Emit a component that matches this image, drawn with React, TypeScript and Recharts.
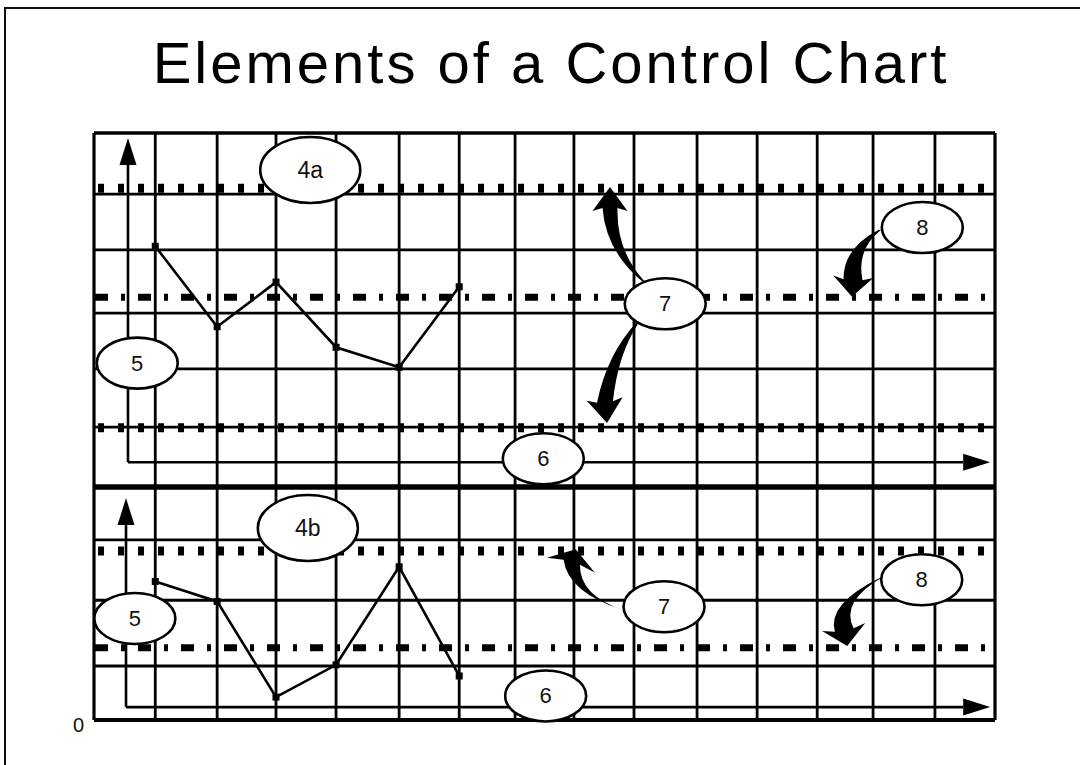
import React from "react";
import { LineChart, Line, XAxis, YAxis, CartesianGrid, ReferenceLine, ReferenceDot } from "recharts";

// ---------- data ----------
const gridX = [0, 1.02, 2.05, 3.03, 4.03, 5.08, 6.08, 7.01, 7.99, 8.99, 10.04, 11.04, 12.04, 12.97, 14, 15];
const gridY = [0, 0.92, 2.04, 3.07, 3.97, 4.99, 5.98, 6.93, 8.01, 8.96, 10];
const sampleX = [1.02, 2.05, 3.03, 4.03, 5.08, 6.08];
const upperValues = [8.07, 6.7, 7.46, 6.35, 6.01, 7.38];
const lowerValues = [2.36, 2.02, 0.39, 0.94, 2.61, 0.75];

const upperUCL = 9.06;
const upperCL = 7.2;
const upperLCL = 4.98;
const lowerUCL = 2.88;
const lowerCL = 1.23;
const panelDivider = 3.97;

const bubbleLabels = ["4a", "5", "6", "7", "8", "4b", "5", "7", "8", "6"];
const bubbleX = [3.6, 0.72, 7.48, 9.51, 13.79, 3.56, 0.68, 9.49, 13.78, 7.52];
const bubbleY = [9.37, 6.08, 4.45, 7.09, 8.39, 3.27, 1.73, 1.93, 2.39, 0.41];

const arrowTipX = [8.59, 8.54, 12.62, 8.02, 12.54];
const arrowTipY = [9.08, 5.06, 7.21, 2.91, 1.26];

const axisOriginX = [0.566, 0.533];
const axisOriginY = [4.39, 0.22];
const axisTopY = [9.915, 3.78];
const axisRightX = [14.92, 14.92];

const rows = sampleX.map((x, i) => ({ x, upper: upperValues[i], lower: lowerValues[i] }));

// ---------- drawing helpers ----------
const FONT = "'Liberation Sans', Arial, Helvetica, sans-serif";

const arrowGeom = [
  { b: [0, 21], c: [1, 64], t: [34, 95], head: 17.5, body: 15 },
  { b: [-2, -21], c: [5.5, -69], t: [31, -101], head: 18, body: 16 },
  { b: [1, -17], c: [-2.5, -48], t: [28, -67], head: 20, body: 19 },
  { b: [-4, 13], c: [-2, 45], t: [48, 61], head: 25, body: 17 },
  { b: [-3, -16], c: [-14, -43.5], t: [35, -69], head: 22, body: 19 },
];

function arrowPath(px: number, py: number, g: any) {
  const B = [px + g.b[0], py + g.b[1]];
  const C = [px + g.c[0], py + g.c[1]];
  const T = [px + g.t[0], py + g.t[1]];
  let ux = px - B[0];
  let uy = py - B[1];
  const L = Math.hypot(ux, uy);
  ux /= L;
  uy /= L;
  const nx = -uy;
  const ny = ux;
  const h = g.body / 2;
  const p = (x: number, y: number) => `${x.toFixed(1)},${y.toFixed(1)}`;
  return (
    `M${p(T[0] + nx * 1.2, T[1] + ny * 1.2)} ` +
    `Q${p(C[0] + nx * h * 0.7, C[1] + ny * h * 0.7)} ${p(B[0] + nx * h, B[1] + ny * h)} ` +
    `L${p(B[0] + nx * g.head - ux * 3, B[1] + ny * g.head - uy * 3)} ` +
    `L${p(px, py)} ` +
    `L${p(B[0] - nx * g.head - ux * 3, B[1] - ny * g.head - uy * 3)} ` +
    `L${p(B[0] - nx * h, B[1] - ny * h)} ` +
    `Q${p(C[0] - nx * h * 0.7, C[1] - ny * h * 0.7)} ${p(T[0] - nx * 1.2, T[1] - ny * 1.2)} Z`
  );
}

const SquareDot = (props: any) => {
  const { cx, cy } = props;
  if (cx == null || cy == null) return <g />;
  return <rect x={cx - 3.5} y={cy - 3.5} width={7} height={7} fill="#000" />;
};

const AxisArrow = (props: any) => {
  const { x1, y1, x2, y2 } = props;
  const len = Math.hypot(x2 - x1, y2 - y1) || 1;
  const ux = (x2 - x1) / len;
  const uy = (y2 - y1) / len;
  const nx = -uy;
  const ny = ux;
  const bx = x2 - ux * 27;
  const by = y2 - uy * 27;
  return (
    <g>
      <line x1={x1} y1={y1} x2={bx} y2={by} stroke="#000" strokeWidth={2.6} />
      <polygon
        points={`${x2},${y2} ${bx + nx * 8.5},${by + ny * 8.5} ${bx - nx * 8.5},${by - ny * 8.5}`}
        fill="#000"
      />
    </g>
  );
};

const makeBubble = (label: string) => (props: any) => {
  const { cx, cy } = props;
  const big = label.startsWith("4");
  const rx = big ? 50 : 40.5;
  const ry = big ? 33 : 25.5;
  return (
    <g>
      <ellipse cx={cx} cy={cy} rx={rx} ry={ry} fill="#fff" stroke="#000" strokeWidth={2.6} />
      <text
        x={cx}
        y={cy}
        textAnchor="middle"
        dominantBaseline="central"
        fontFamily={FONT}
        fontSize={big ? 23 : 22}
        fill="#111"
      >
        {label}
      </text>
    </g>
  );
};

const makeCurvedArrow = (i: number) => (props: any) => {
  const { cx, cy } = props;
  return <path d={arrowPath(cx, cy, arrowGeom[i])} fill="#000" />;
};

const YTick = (props: any) => {
  const { x, y, payload } = props;
  if (!payload || payload.value !== 0) return <g />;
  return (
    <text x={x} y={y + 12} textAnchor="end" fontFamily={FONT} fontSize={20} fill="#111">
      0
    </text>
  );
};

const dotted = { stroke: "#000", strokeWidth: 9, strokeDasharray: "6 14" };
const dashDot = { stroke: "#000", strokeWidth: 7, strokeDasharray: "13 13 4 13" };

export default function App() {
  return (
    <div
      style={{
        position: "absolute",
        left: 0,
        top: 0,
        width: 1080,
        height: 765,
        overflow: "hidden",
        background: "#fff",
      }}
    >
      <div
        style={{
          position: "absolute",
          left: 4,
          top: 7,
          width: 1200,
          height: 900,
          borderLeft: "2px solid #111",
          borderTop: "2px solid #111",
        }}
      />
      <div
        style={{
          position: "absolute",
          left: 11,
          top: 34,
          width: 1080,
          textAlign: "center",
          fontFamily: FONT,
          fontSize: 58,
          lineHeight: "58px",
          letterSpacing: 3,
          color: "#000",
          whiteSpace: "nowrap",
        }}
      >
        Elements of a Control Chart
      </div>
      <div style={{ position: "absolute", left: 0, top: 0 }}>
        <LineChart
          width={1080}
          height={765}
          data={rows}
          margin={{ top: 133, right: 85, bottom: 45, left: 34 }}
        >
          <CartesianGrid stroke="#000" strokeWidth={2.8} vertical={false} />
          <XAxis
            type="number"
            dataKey="x"
            domain={[0, 15]}
            ticks={gridX}
            interval={0}
            height={0}
            tick={false}
            axisLine={false}
            tickLine={false}
            allowDataOverflow
          />
          <YAxis
            type="number"
            domain={[0, 10]}
            ticks={gridY}
            interval={0}
            width={60}
            axisLine={false}
            tickLine={false}
            tickSize={0}
            tickMargin={10}
            tick={<YTick />}
            allowDataOverflow
          />
          {gridX.map((gx, i) => (
            <ReferenceLine
              key={`gx${i}`}
              x={gx}
              stroke="#000"
              strokeWidth={i === 0 || i === gridX.length - 1 ? 3.2 : 2.8}
            />
          ))}
          <ReferenceLine y={0} stroke="#000" strokeWidth={4} />
          <ReferenceLine y={10} stroke="#000" strokeWidth={3.2} />
          <ReferenceLine y={panelDivider} stroke="#000" strokeWidth={5.5} />
          <ReferenceLine segment={[{ x: 0.067, y: upperUCL }, { x: 14.85, y: upperUCL }]} {...dotted} />
          <ReferenceLine segment={[{ x: 0.017, y: upperCL }, { x: 14.92, y: upperCL }]} {...dashDot} />
          <ReferenceLine segment={[{ x: 0.067, y: upperLCL }, { x: 14.85, y: upperLCL }]} {...dotted} />
          <ReferenceLine segment={[{ x: 0.067, y: lowerUCL }, { x: 14.85, y: lowerUCL }]} {...dotted} />
          <ReferenceLine segment={[{ x: 0.017, y: lowerCL }, { x: 14.92, y: lowerCL }]} {...dashDot} />
          {axisOriginX.map((ox, i) => (
            <ReferenceLine
              key={`v${i}`}
              segment={[{ x: ox, y: axisOriginY[i] }, { x: ox, y: axisTopY[i] }]}
              shape={AxisArrow}
            />
          ))}
          {axisOriginX.map((ox, i) => (
            <ReferenceLine
              key={`h${i}`}
              segment={[{ x: ox, y: axisOriginY[i] }, { x: axisRightX[i], y: axisOriginY[i] }]}
              shape={AxisArrow}
            />
          ))}
          <Line
            dataKey="upper"
            stroke="#000"
            strokeWidth={2.6}
            dot={<SquareDot />}
            activeDot={false}
            isAnimationActive={false}
          />
          <Line
            dataKey="lower"
            stroke="#000"
            strokeWidth={2.6}
            dot={<SquareDot />}
            activeDot={false}
            isAnimationActive={false}
          />
          {arrowTipX.map((ax, i) => (
            <ReferenceDot key={`a${i}`} x={ax} y={arrowTipY[i]} r={1} shape={makeCurvedArrow(i)} />
          ))}
          {bubbleLabels.map((lab, i) => (
            <ReferenceDot key={`b${i}`} x={bubbleX[i]} y={bubbleY[i]} r={1} shape={makeBubble(lab)} />
          ))}
        </LineChart>
      </div>
    </div>
  );
}
